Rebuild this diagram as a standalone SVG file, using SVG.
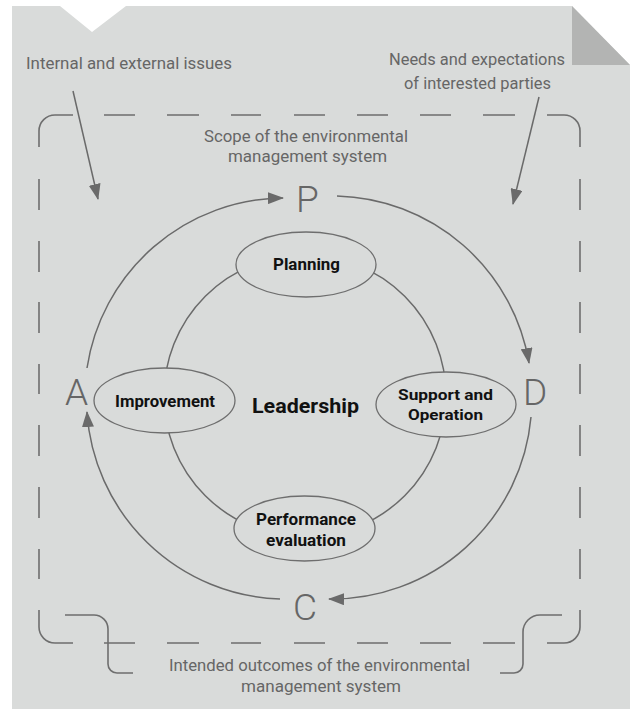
<svg xmlns="http://www.w3.org/2000/svg" width="632" height="709" viewBox="0 0 632 709">
<style>
.bg{fill:#d9dbda}
.fold{fill:#b3b4b3}
.frame{fill:none;stroke:#6e6e6e;stroke-width:1.6}
.arc{fill:none;stroke:#6a6a6a;stroke-width:1.5}
.node ellipse{fill:#d9dbda;stroke:#6e6e6e;stroke-width:1.3}
.lbl{font-family:Roboto,"Liberation Sans",sans-serif;font-size:17px;fill:#666}
.big{font-family:Roboto,"Liberation Sans",sans-serif;font-weight:300;font-size:37px;fill:#666;text-anchor:middle}
.nt{font-family:Roboto,"Liberation Sans",sans-serif;font-weight:bold;font-size:17px;fill:#111;text-anchor:middle}
.nt2{font-size:15.5px}
</style>
<defs>
<marker id="ah" viewBox="0 0 16 12" refX="15" refY="6" markerWidth="16" markerHeight="12" markerUnits="userSpaceOnUse" orient="auto">
<path d="M0,0 L16,6 L0,12 Z" fill="#6a6a6a"/>
</marker>
</defs>
<rect width="632" height="709" fill="#ffffff"/>
<polygon class="bg" points="12,6 60,6 92,32 126,6 572,6 630,65 630,709 12,709"/>
<polygon class="fold" points="572,6 630,65 572,65"/>

<g id="frame">
<path class="frame" d="M39,147 V131 A16,16 0 0 1 55,115 H73 M104,115 H135 M167,115 H199 M231,115 H261 M294,115 H325 M357,115 H388 M420,115 H451 M483,115 H515 M547,115 H564 A16,16 0 0 1 580,131 V147"/>
<path class="frame" d="M39,179 V210 M39,241 V272 M39,302 V333 M39,364 V394 M39,425 V456 M39,487 V518 M39,549 V579"/>
<path class="frame" d="M580,179 V210 M580,241 V272 M580,302 V333 M580,364 V394 M580,425 V456 M580,487 V518 M580,549 V579"/>
<path class="frame" d="M39,610 V627 A16,16 0 0 0 55,643 H73 M104,643 H135 M167,643 H199 M231,643 H261 M294,643 H325 M357,643 H388 M420,643 H451 M483,643 H515 M547,643 H564 A16,16 0 0 0 580,627 V610"/>
<path class="frame" d="M65,615 H94 A14,14 0 0 1 108,629 V664 A9,9 0 0 0 117,673 H133"/>
<path class="frame" d="M562,615 H540 A17,17 0 0 0 523,632 V664 A9,9 0 0 1 514,673 H500"/>
</g>

<g id="labels">
<text class="lbl" x="26" y="69" textLength="206" lengthAdjust="spacingAndGlyphs">Internal and external issues</text>
<text class="lbl" x="389" y="65" textLength="176" lengthAdjust="spacingAndGlyphs">Needs and expectations</text>
<text class="lbl" x="404" y="89" textLength="147" lengthAdjust="spacingAndGlyphs">of interested parties</text>
<text class="lbl" x="204" y="142" textLength="204" lengthAdjust="spacingAndGlyphs">Scope of the environmental</text>
<text class="lbl" x="228" y="162" textLength="159" lengthAdjust="spacingAndGlyphs">management system</text>
<text class="lbl" x="169" y="671" textLength="301" lengthAdjust="spacingAndGlyphs">Intended outcomes of the environmental</text>
<text class="lbl" x="241" y="692" textLength="160" lengthAdjust="spacingAndGlyphs">management system</text>
</g>

<g id="connectors">
<circle class="arc" cx="305" cy="396" r="141"/>
<path class="arc" d="M87,368 A200,200 0 0 1 283,198" marker-end="url(#ah)"/>
<path class="arc" d="M337,196 A200,200 0 0 1 529,363" marker-end="url(#ah)"/>
<path class="arc" d="M531,417 A200,200 0 0 1 329,599" marker-end="url(#ah)"/>
<path class="arc" d="M280,599 A200,200 0 0 1 87,412" marker-end="url(#ah)"/>
<path class="arc" d="M73,91 L98,199" marker-end="url(#ah)"/>
<path class="arc" d="M539,97 L513,204" marker-end="url(#ah)"/>
</g>

<g id="pdca">
<text class="big" x="307.5" y="212">P</text>
<text class="big" x="535" y="405">D</text>
<text class="big" x="305" y="620">C</text>
<text class="big" x="76.5" y="405">A</text>
</g>

<g id="planning" class="node">
<ellipse cx="306" cy="264.5" rx="70" ry="32.5"/>
<text class="nt" x="306.5" y="270" textLength="67" lengthAdjust="spacingAndGlyphs">Planning</text>
</g>
<g id="improvement" class="node">
<ellipse cx="164.5" cy="400.5" rx="70.5" ry="32.5"/>
<text class="nt" x="165" y="407" textLength="100" lengthAdjust="spacingAndGlyphs">Improvement</text>
</g>
<g id="support" class="node">
<ellipse cx="446" cy="404.5" rx="70" ry="32.5"/>
<text class="nt nt2" x="445.5" y="400" textLength="95" lengthAdjust="spacingAndGlyphs">Support and</text>
<text class="nt nt2" x="445.5" y="420" textLength="75" lengthAdjust="spacingAndGlyphs">Operation</text>
</g>
<g id="performance" class="node">
<ellipse cx="304.5" cy="528.5" rx="70.5" ry="32.5"/>
<text class="nt" x="306" y="525" textLength="100" lengthAdjust="spacingAndGlyphs">Performance</text>
<text class="nt" x="306" y="546" textLength="80" lengthAdjust="spacingAndGlyphs">evaluation</text>
</g>
<g id="leadership">
<text class="nt" x="305.5" y="413" style="font-size:21px" textLength="107" lengthAdjust="spacingAndGlyphs">Leadership</text>
</g>
</svg>
